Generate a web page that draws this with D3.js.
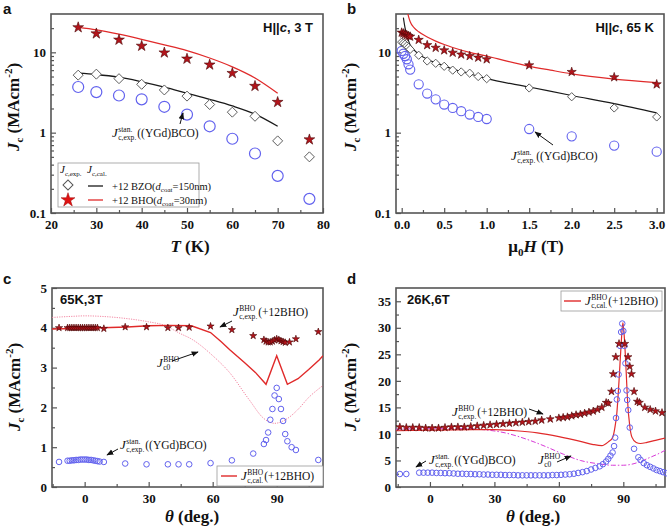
<!DOCTYPE html>
<html><head><meta charset="utf-8">
<script src="https://cdn.jsdelivr.net/npm/d3@7"></script>
<style>
body{margin:0;background:#fff}
svg{display:block}
text{font-family:"Liberation Serif","Times New Roman",serif;fill:#111}
</style>
</head><body>
<svg id="chart" width="667" height="528"></svg>
<script>
// ---------- Panel a : Jc vs T (H||c, 3 T) ----------
const aT      = [26,30,35,40,45,50,55,60,65,70,77];
const aBHO    = [20.4,17.1,14.3,12.0,9.9,8.3,7.0,5.5,3.8,2.4,0.82];
const aBZO    = [5.2,5.35,4.7,4.0,3.4,2.85,2.24,1.8,1.6,0.79,0.5];
const aSTAN   = [3.7,3.2,2.9,2.6,2.1,1.68,1.2,0.84,0.55,0.29,0.15];
const aCalT   = [26,30,35,40,45,50,55,60,65,70];
const aCalBZO = [5.5,5.3,4.9,4.3,3.7,3.1,2.6,2.15,1.7,1.2];
const aCalBHO = [20.4,19.0,16.8,14.5,12.4,10.5,8.5,6.6,4.8,3.1];
const aXTicks = [20,30,40,50,60,70,80];
const logTicks = [0.1,1,10];
const logTickLabels = ["0.1","1","10"];

// ---------- Panel b : Jc vs field (H||c, 65 K) ----------
const bH    = [0,0.02,0.04,0.06,0.08,0.1,0.2,0.3,0.4,0.5,0.6,0.7,0.8,0.9,1.0,1.5,2.0,2.5,3.0];
const bBHO  = [17.6,17.2,16.8,16.4,16.0,15.7,14.3,12.3,11.4,10.6,9.9,9.4,9.0,8.6,8.2,6.9,5.7,4.9,4.0];
const bBZO  = [13.4,13.0,12.6,12.0,11.5,10.9,9.2,7.8,7.3,6.7,6.0,5.7,5.5,5.0,4.7,3.6,2.8,2.03,1.57];
const bSTAN = [10.4,9.6,9.0,8.2,7.1,6.1,4.0,3.07,2.6,2.24,2.03,1.85,1.68,1.57,1.48,1.11,0.9,0.69,0.58];
const bCalBHOH = [0.06,0.08,0.1,0.15,0.2,0.3,0.4,0.5,0.6,0.8,1.0,1.25,1.5,1.75,2.0,2.5,3.0];
const bCalBHO  = [35,28,24,20,18,15.5,13.8,12.5,11.5,10.0,9.0,7.7,6.7,6.0,5.4,4.65,4.2];
const bCalBZOH = [0.02,0.04,0.06,0.08,0.1,0.15,0.2,0.3,0.4,0.5,0.6,0.7,0.8,1.0,1.5,2.0,2.5,3.0];
const bCalBZO  = [27,20,16.5,14,12.3,10.6,9.5,8.2,7.4,6.8,6.2,5.8,5.4,4.7,3.7,2.9,2.3,1.76];
const bXTicks = [0,0.5,1.0,1.5,2.0,2.5,3.0];

// ---------- Panel c : angular Jc (65K, 3T) ----------
const cStarDeg = [-12,-8,-7,-6,-5,-4,-3,-2,-1,0,1,2,3,4,5,6,9,19,29,39,44,49,59,69,79,84,85,86,87,88,89,90,91,92,93,94,96,99,109.5];
const cStarJ   = [4.0,4.0,4.0,4.0,4.0,4.0,4.0,4.0,4.0,4.0,4.0,4.0,4.0,4.0,4.0,4.0,3.98,4.02,4.02,4.0,4.0,4.01,4.04,3.95,3.8,3.7,3.66,3.64,3.64,3.66,3.69,3.72,3.7,3.67,3.65,3.63,3.64,3.72,3.9];
const cCircDeg = [-12,-8,-7,-6,-5,-4,-3,-2,-1,0,1,2,3,4,5,6,7,9,19,29,39,44,49,59,69,79,84,85,86,87,88,89,90,91,92,93,94,95,97,99,109.5];
const cCircJ   = [0.63,0.66,0.66,0.67,0.67,0.68,0.68,0.69,0.69,0.69,0.69,0.68,0.68,0.67,0.66,0.65,0.64,0.63,0.59,0.57,0.57,0.57,0.57,0.6,0.67,0.84,1.08,1.18,1.37,1.69,1.96,2.3,2.49,2.21,1.96,1.66,1.33,1.15,1.0,0.93,0.68];
const cCalDeg  = [-15.3,0,20,30,40,50,59,64,68,75,80,85,90,95,100,105,110,111.7];
const cCalJ    = [3.97,3.99,4.02,4.05,4.06,4.05,3.88,3.65,3.45,3.12,2.88,2.58,3.3,2.58,2.72,2.95,3.2,3.3];
const cJc0Deg  = [-15.3,-5,0,10,20,30,37,45,50,60,68,77,84,89,95,100,105,110,111.7];
const cJc0J    = [4.26,4.29,4.3,4.28,4.23,4.15,4.07,3.85,3.72,3.3,2.87,2.2,1.72,1.6,1.72,1.95,2.25,2.48,2.55];
const cYTicks  = [0,1,2,3,4,5];
const angTicks = [0,30,60,90];

// ---------- Panel d : angular Jc (26K, 6T) ----------
const dStarDeg = [-14,-11,-8,-5,-2,1,4,7,10,13,16,19,22,25,28,31,34,37,40,43,46,49,52,56,60,62,64,66,68,70,72,74,76,78,80,82,83,84.5,85.3,86.5,88,90.7,92.2,93,93.8,95,96.5,97.5,100,102.5,105,108];
const dStarJ   = [11.3,11.2,11.2,11.2,11.1,11.1,11.1,11.2,11.3,11.3,11.3,11.4,11.5,11.6,11.7,11.8,11.9,12.0,12.1,12.2,12.3,12.4,12.6,12.8,13.0,13.1,13.2,13.4,13.6,13.7,13.9,14.1,14.3,14.6,15.0,15.9,15.8,18.0,21.3,24.5,27.0,27.0,24.5,22.7,21.3,18.0,16.1,15.9,15.0,14.6,14.3,14.0];
const dCircDeg = [-14,-11,-5,-3,-1,1,3,5,7,9,11,13,15,17,19,21,23,25,27,29,31,33,35,37,39,41,43,45,47,49,51,53,55,57,59,61,63,65,67,69,71,73,75,77,79,80.5,82,83,84,85,85.7,86.2,86.6,87,87.4,87.8,88.5,89,89.5,90,90.5,91,91.5,91.8,92.3,93,95,97,98,99.5,101,102.5,104,105.5,107,108.5,110];
const dCircJ   = [2.45,2.45,2.7,2.7,2.7,2.7,2.65,2.65,2.6,2.6,2.55,2.5,2.5,2.45,2.45,2.4,2.4,2.35,2.35,2.3,2.3,2.3,2.25,2.25,2.25,2.2,2.2,2.2,2.2,2.2,2.2,2.2,2.2,2.25,2.25,2.3,2.35,2.4,2.5,2.65,2.8,3.0,3.3,3.6,3.9,4.3,4.8,5.3,5.9,6.5,7.7,9.3,13.0,16.5,18.1,21.2,26.6,29.2,30.8,29.4,26.6,23.3,18.2,16.4,14.5,11.2,7.2,5.6,5.1,4.5,4.1,3.8,3.5,3.2,3.0,2.8,2.6];
const dCalDeg  = [-15.8,0,20,30,40,50,60,70,76,80,83,85,86,87,88,89,89.8,90.5,91.3,92,93,94,96,98,101,105,109.4];
const dCalJ    = [10.6,10.7,10.8,10.8,10.6,10.2,9.5,8.6,8.0,7.8,8.5,9.3,11,14,20,27,31,28,22,16,11.5,9.4,8.4,8.2,8.4,8.8,9.2];
const dJc0Deg  = [-15.8,0,15,25,35,45,54,62,70,78,85,90,95,98,102,106,109.4];
const dJc0J    = [10.9,11.0,11.0,10.8,10.2,9.0,7.6,6.2,5.0,4.4,4.1,4.1,4.4,4.8,5.5,6.2,6.9];
const dYTicks  = [0,5,10,15,20,25,30,35];

// ---------------------------------------------------------------
const SANS = "'Liberation Sans', Arial, sans-serif";
const svg = d3.select("#chart");
const C_STAR = "#b3141b", C_STAR_S = "#4a0606", C_CIRC = "#6262ee", C_DIA = "#555";
const C_RED = "#e02a2a", C_BLACK = "#1a1a1a";

svg.append("defs").append("marker").attr("id","arr").attr("viewBox","0 0 10 10")
  .attr("refX",9).attr("refY",5).attr("markerWidth",7).attr("markerHeight",7).attr("orient","auto")
  .append("path").attr("d","M0,1 L10,5 L0,9 Z").attr("fill","#111");

let clipId = 0;
function panel(o){
  const g = svg.append("g").attr("transform",`translate(${o.L},${o.T})`);
  const cid = "clip"+(clipId++);
  g.append("clipPath").attr("id",cid).append("rect").attr("width",o.W).attr("height",o.H);
  const style = sel => { sel.select(".domain").remove();
    sel.selectAll("line").attr("stroke","#555").attr("stroke-width",1.2);
    sel.selectAll("text").style("font-size","13px").style("font-weight","bold")
       .style("font-family","'Liberation Serif','Times New Roman',serif").attr("fill","#111"); };
  g.append("g").attr("transform",`translate(0,${o.H})`)
    .call(d3.axisBottom(o.x).tickValues(o.xMinor).tickSize(-3).tickFormat("")).call(style);
  g.append("g")
    .call(d3.axisLeft(o.y).tickValues(o.yMinor).tickSize(-3).tickFormat("")).call(style);
  g.append("g").attr("transform",`translate(0,${o.H})`)
    .call(d3.axisBottom(o.x).tickValues(o.xTicks).tickSize(-5).tickPadding(7).tickFormat(o.xFmt)).call(style);
  g.append("g")
    .call(d3.axisLeft(o.y).tickValues(o.yTicks).tickSize(-5).tickPadding(5).tickFormat(o.yFmt)).call(style);
  g.append("rect").attr("width",o.W).attr("height",o.H).attr("fill","none")
    .attr("stroke","#555").attr("stroke-width",1.6);
  const lines = g.append("g").attr("clip-path",`url(#${cid})`);
  const marks = g.append("g");
  return {g, lines, marks};
}

function drawLine(parent, x, y, xs, ys, color, w, dash, curve){
  const pts = xs.map((v,i)=>[v,ys[i]]);
  parent.append("path").datum(pts)
    .attr("d", d3.line().x(d=>x(d[0])).y(d=>y(d[1])).curve(curve||d3.curveMonotoneX))
    .attr("fill","none").attr("stroke",color).attr("stroke-width",w)
    .attr("stroke-dasharray",dash||null);
}
function stars(parent,x,y,xs,ys,size){
  parent.selectAll(null).data(xs.map((v,i)=>[v,ys[i]])).enter().append("path")
    .attr("d",d3.symbol(d3.symbolStar,size)())
    .attr("transform",d=>`translate(${x(d[0])},${y(d[1])})`)
    .attr("fill",C_STAR).attr("stroke",C_STAR_S).attr("stroke-width",0.6);
}
function circles(parent,x,y,xs,ys,r,w){
  parent.selectAll(null).data(xs.map((v,i)=>[v,ys[i]])).enter().append("circle")
    .attr("cx",d=>x(d[0])).attr("cy",d=>y(d[1])).attr("r",r)
    .attr("fill","none").attr("stroke",C_CIRC).attr("stroke-width",w||1.1);
}
function diamonds(parent,x,y,xs,ys,size){
  parent.selectAll(null).data(xs.map((v,i)=>[v,ys[i]])).enter().append("path")
    .attr("d",d3.symbol(d3.symbolSquare,size)())
    .attr("transform",d=>`translate(${x(d[0])},${y(d[1])}) rotate(45)`)
    .attr("fill","#fff").attr("stroke",C_DIA).attr("stroke-width",0.9);
}
function jlabel(x, y, sup, sub, tail, size, tsize){
  size = size||13; tsize = tsize||11.5;
  const g = svg.append("g");
  const J = g.append("text").attr("x",x).attr("y",y).style("font-style","italic")
    .style("font-size",size+"px").text("J");
  const jw = J.node().getComputedTextLength();
  const sx = x + jw + 0.5;
  const fs = size*0.58;
  const s1 = g.append("text").attr("x",sx).attr("y",y-size*0.42).style("font-size",fs+"px").text(sup);
  const s2 = g.append("text").attr("x",sx).attr("y",y+size*0.22).style("font-size",fs+"px").text(sub);
  const w = Math.max(s1.node().getComputedTextLength(), s2.node().getComputedTextLength());
  if(tail) g.append("text").attr("x",sx+w+1).attr("y",y).style("font-size",tsize+"px").text(tail);
  return g;
}
function arrow(x1,y1,x2,y2){
  svg.append("line").attr("x1",x1).attr("y1",y1).attr("x2",x2).attr("y2",y2)
    .attr("stroke","#111").attr("stroke-width",1).attr("marker-end","url(#arr)");
}
function yTitle(x, y){
  const t = svg.append("text").attr("transform",`translate(${x},${y}) rotate(-90)`)
    .attr("text-anchor","middle").style("font-size","17px").style("font-weight","bold");
  t.append("tspan").style("font-style","italic").text("J");
  t.append("tspan").attr("dy",4).style("font-size","11px").text("c");
  t.append("tspan").attr("dy",-4).text(" (MAcm");
  t.append("tspan").attr("dy",-7).style("font-size","11px").text("-2");
  t.append("tspan").attr("dy",7).text(")");
}
function panelLetter(x,y,s){
  svg.append("text").attr("x",x).attr("y",y).style("font-family",SANS)
    .style("font-weight","bold").style("font-size","15px").text(s);
}

// ================= Panel a =================
{
  const W=272,H=199;
  const x = d3.scaleLinear().domain([20,80]).range([0,W]);
  const y = d3.scaleLog().domain([0.1,30]).range([H,0]);
  const p = panel({L:51,T:14,W,H,x,y,xTicks:aXTicks,xMinor:[25,35,45,55,65,75],
    yTicks:logTicks,yMinor:[0.2,0.3,0.4,0.5,0.6,0.7,0.8,0.9,2,3,4,5,6,7,8,9,20],
    xFmt:d3.format("d"),yFmt:(d,i)=>logTickLabels[i]});
  drawLine(p.lines,x,y,aCalT,aCalBZO,C_BLACK,1.3);
  drawLine(p.lines,x,y,aCalT,aCalBHO,C_RED,1.3);
  circles(p.marks,x,y,aT,aSTAN,5.5,1.2);
  diamonds(p.marks,x,y,aT,aBZO,50);
  stars(p.marks,x,y,aT,aBHO,36);
  const lg = svg.append("g");
  lg.append("rect").attr("x",58).attr("y",163).attr("width",141).attr("height",44)
    .attr("fill","#fff").attr("stroke","#999").attr("stroke-width",0.8);
  const hdr = (xx,sub)=>{ const t=svg.append("text").attr("x",xx).attr("y",173).style("font-size","11px");
    t.append("tspan").style("font-style","italic").text("J");
    t.append("tspan").attr("dy",3).style("font-size","7px").text(sub); };
  hdr(60,"c,exp.");hdr(87,"c,cal.");
  lg.append("path").attr("d",d3.symbol(d3.symbolSquare,50)())
    .attr("transform","translate(68,185) rotate(45)").attr("fill","#fff").attr("stroke",C_DIA);
  lg.append("line").attr("x1",88).attr("x2",103).attr("y1",186).attr("y2",186).attr("stroke",C_BLACK).attr("stroke-width",1.3);
  lg.append("path").attr("d",d3.symbol(d3.symbolStar,60)())
    .attr("transform","translate(68,200)").attr("fill","#e01212").attr("stroke","#9a0000").attr("stroke-width",0.5);
  lg.append("line").attr("x1",88).attr("x2",103).attr("y1",200).attr("y2",200).attr("stroke",C_RED).attr("stroke-width",1.3);
  const row = (yy,name,dc)=>{ const t=svg.append("text").attr("x",112).attr("y",yy).style("font-size","10.5px");
    t.append("tspan").text("+12 "+name+"(");
    t.append("tspan").style("font-style","italic").text("d");
    t.append("tspan").attr("dy",2).style("font-size","7px").text("coat");
    t.append("tspan").attr("dy",-2).text("="+dc+"nm)"); };
  row(189.5,"BZO","150"); row(203.5,"BHO","30");
  const t = svg.append("text").attr("x",313).attr("y",32).attr("text-anchor","end")
    .style("font-family",SANS).style("font-weight","bold").style("font-size","13px");
  t.append("tspan").style("font-family",SANS).text("H||");
  t.append("tspan").style("font-family",SANS).style("font-style","italic").text("c");
  t.append("tspan").style("font-family",SANS).text(", 3 T");
  jlabel(112,137,"stan.","c,exp.","((YGd)BCO)");
  arrow(180,124,183,113);
  yTitle(19,107);
  const xt = svg.append("text").attr("x",190).attr("y",252).attr("text-anchor","middle")
    .style("font-size","17px").style("font-weight","bold");
  xt.append("tspan").style("font-style","italic").text("T");
  xt.append("tspan").text(" (K)");
  panelLetter(3,14,"a");
}

// ================= Panel b =================
{
  const W=268,H=199;
  const x = d3.scaleLinear().domain([-0.067,3.086]).range([0,W]);
  const y = d3.scaleLog().domain([0.1,30]).range([H,0]);
  const p = panel({L:396,T:14,W,H,x,y,xTicks:bXTicks,xMinor:[0.25,0.75,1.25,1.75,2.25,2.75],
    yTicks:logTicks,yMinor:[0.2,0.3,0.4,0.5,0.6,0.7,0.8,0.9,2,3,4,5,6,7,8,9,20],
    xFmt:d3.format(".1f"),yFmt:(d,i)=>logTickLabels[i]});
  drawLine(p.lines,x,y,bCalBZOH,bCalBZO,C_BLACK,1.2);
  drawLine(p.lines,x,y,bCalBHOH,bCalBHO,C_RED,1.2);
  circles(p.marks,x,y,bH,bSTAN,4.6,1.1);
  diamonds(p.marks,x,y,bH,bBZO,34);
  stars(p.marks,x,y,bH,bBHO,26);
  const t = svg.append("text").attr("x",654).attr("y",32).attr("text-anchor","end")
    .style("font-family",SANS).style("font-weight","bold").style("font-size","13px");
  t.append("tspan").style("font-family",SANS).text("H||");
  t.append("tspan").style("font-family",SANS).style("font-style","italic").text("c");
  t.append("tspan").style("font-family",SANS).text(", 65 K");
  jlabel(511,160,"stan.","c,exp.","((YGd)BCO)");
  arrow(553,145,535,132);
  yTitle(356,107);
  const xt = svg.append("text").attr("x",536).attr("y",252).attr("text-anchor","middle")
    .style("font-size","17px").style("font-weight","bold");
  xt.append("tspan").text("\u03bc");
  xt.append("tspan").attr("dy",4).style("font-size","11px").text("0");
  xt.append("tspan").attr("dy",-4).style("font-style","italic").text("H");
  xt.append("tspan").text(" (T)");
  panelLetter(347,14,"b");
}

// ================= Panel c =================
{
  const W=271,H=199;
  const x = d3.scaleLinear().domain([-15.3,111.7]).range([0,W]);
  const y = d3.scaleLinear().domain([0,5]).range([H,0]);
  const p = panel({L:52,T:288,W,H,x,y,xTicks:angTicks,xMinor:[-15,15,45,75,105],
    yTicks:cYTicks,yMinor:[0.5,1.5,2.5,3.5,4.5],xFmt:d3.format("d"),yFmt:d3.format("d")});
  drawLine(p.lines,x,y,cJc0Deg,cJc0J,"#f07a98",0.9,"1.2,1.2");
  drawLine(p.lines,x,y,cCalDeg,cCalJ,C_RED,1.4,null,d3.curveLinear);
  circles(p.marks,x,y,cCircDeg,cCircJ,2.8,1);
  stars(p.marks,x,y,cStarDeg,cStarJ,16);
  svg.append("text").attr("x",60).attr("y",304).style("font-family",SANS)
    .style("font-weight","bold").style("font-size","13px").text("65K,3T");
  jlabel(233,316,"BHO","c,exp.","(+12BHO)");
  arrow(232,321,220,327);
  jlabel(157,367,"BHO","c0","");
  arrow(172,361,198,352);
  jlabel(120,449,"stan.","c,exp.","((YGd)BCO)");
  arrow(118,449,107,455);
  svg.append("rect").attr("x",217).attr("y",466).attr("width",106).attr("height",20)
    .attr("fill","#fff").attr("stroke","#999").attr("stroke-width",0.8);
  svg.append("line").attr("x1",221).attr("x2",237).attr("y1",476).attr("y2",476)
    .attr("stroke",C_RED).attr("stroke-width",1.4);
  jlabel(241,480,"BHO","c,cal.","(+12BHO)");
  yTitle(20,387);
  const xt = svg.append("text").attr("x",192).attr("y",522).attr("text-anchor","middle")
    .style("font-size","17px").style("font-weight","bold");
  xt.append("tspan").style("font-style","italic").text("\u03b8");
  xt.append("tspan").text(" (deg.)");
  panelLetter(3,284,"c");
}

// ================= Panel d =================
{
  const W=269,H=199;
  const x = d3.scaleLinear().domain([-15.8,109.4]).range([0,W]);
  const y = d3.scaleLinear().domain([0,37.5]).range([H,0]);
  const p = panel({L:396,T:288,W,H,x,y,xTicks:angTicks,xMinor:[-15,15,45,75,105],
    yTicks:dYTicks,yMinor:[2.5,7.5,12.5,17.5,22.5,27.5,32.5],xFmt:d3.format("d"),yFmt:d3.format("d")});
  drawLine(p.lines,x,y,dJc0Deg,dJc0J,"#d83ad8",1,"5,2,1.5,2");
  drawLine(p.lines,x,y,dCalDeg,dCalJ,C_RED,1.2);
  circles(p.marks,x,y,dCircDeg,dCircJ,2.8,1);
  stars(p.marks,x,y,dStarDeg,dStarJ,19);
  svg.append("text").attr("x",407).attr("y",304).style("font-family",SANS)
    .style("font-weight","bold").style("font-size","13px").text("26K,6T");
  jlabel(452,416,"BHO","c,exp.","(+12BHO)");
  arrow(529,409,543,414);
  jlabel(429,464,"stan.","c,exp.","((YGd)BCO)");
  arrow(426,461,416,467);
  jlabel(538,464,"BHO","c0","");
  arrow(557,462,571,456);
  svg.append("rect").attr("x",561).attr("y",291).attr("width",101).attr("height",20)
    .attr("fill","#fff").attr("stroke","#999").attr("stroke-width",0.8);
  svg.append("line").attr("x1",564).attr("x2",581).attr("y1",301).attr("y2",301)
    .attr("stroke",C_RED).attr("stroke-width",1.4);
  jlabel(585,305,"BHO","c,cal.","(+12BHO)");
  yTitle(356,387);
  const xt = svg.append("text").attr("x",533).attr("y",522).attr("text-anchor","middle")
    .style("font-size","17px").style("font-weight","bold");
  xt.append("tspan").style("font-style","italic").text("\u03b8");
  xt.append("tspan").text(" (deg.)");
  panelLetter(347,284,"d");
}
</script>
</body></html>
